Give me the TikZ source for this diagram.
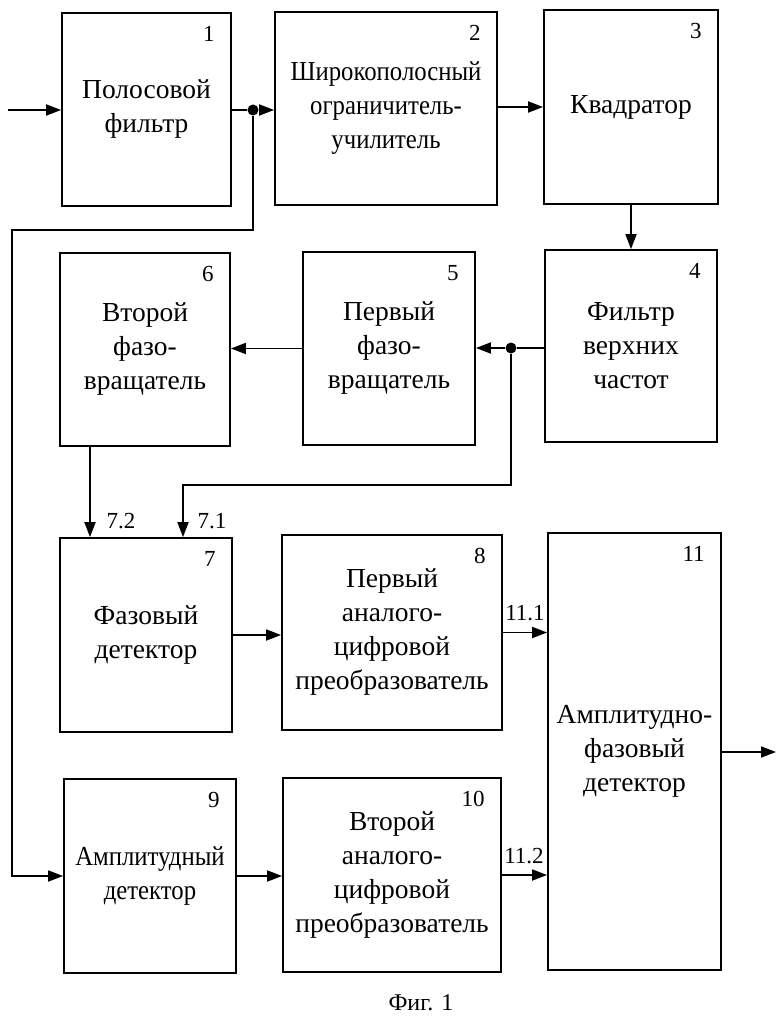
\documentclass[tikz,border=0pt]{standalone}
\usepackage{fontspec}
\setmainfont{Liberation Serif}
\usetikzlibrary{arrows.meta}
\begin{document}
\begin{tikzpicture}[x=1pt, y=-1pt,
        blok/.style = {draw, line width=1.8pt, inner sep=0pt, align=center, font=\fontsize{27.5}{34}\selectfont},
        uzkiy/.style = {font=\fontsize{27.5}{34}\selectfont\addfontfeature{FakeStretch=0.9}},
        nomer/.style = {anchor=north east, inner sep=0pt, font=\fontsize{23}{23}\selectfont},
        metka/.style = {inner sep=0pt, font=\fontsize{23}{23}\selectfont},
        svyaz/.style = {line width=1.8pt},
        strelka/.style = {line width=1.8pt, -{Triangle[length=15pt, width=11pt]}},
        tochka/.style = {circle, fill, inner sep=0pt, minimum size=11pt}]
    \useasboundingbox (0,0) rectangle (780,1024);
    % bloki
    \node[blok, minimum width=169pt, minimum height=193pt] (b1) at (146.5,109.5) {Полосовой\\фильтр};
    \node[blok, uzkiy, minimum width=222pt, minimum height=193pt] (b2) at (386,108.5) {Широкополосный\\ограничитель-\\училитель};
    \node[blok, minimum width=174pt, minimum height=194pt] (b3) at (631,107) {Квадратор};
    \node[blok, minimum width=172pt, minimum height=192pt] (b4) at (631,346) {Фильтр\\верхних\\частот};
    \node[blok, minimum width=172pt, minimum height=193pt] (b5) at (389,348.5) {Первый\\фазо-\\вращатель};
    \node[blok, minimum width=170pt, minimum height=193pt] (b6) at (145,349.5) {Второй\\фазо-\\вращатель};
    \node[blok, minimum width=172pt, minimum height=194pt] (b7) at (146,635) {Фазовый\\детектор};
    \node[blok, minimum width=220pt, minimum height=195pt] (b8) at (392,632.5) {Первый\\аналого-\\цифровой\\преобразователь};
    \node[blok, uzkiy, minimum width=172pt, minimum height=194pt] (b9) at (150,876) {Амплитудный\\детектор};
    \node[blok, minimum width=218pt, minimum height=194pt] (b10) at (392,875) {Второй\\аналого-\\цифровой\\преобразователь};
    \node[blok, minimum width=173pt, minimum height=437pt] (b11) at (634.5,751.5) {Амплитудно-\\фазовый\\детектор};
    % nomera
    \foreach \b/\n in {b1/1, b2/2, b3/3, b4/4, b5/5, b6/6, b7/7, b8/8, b9/9, b10/10, b11/11}
        \node[nomer] (n\n) at ([shift={(-17,14)}]\b.north east) {\n};
    % tochki i uzly
    \node[tochka] (d1) at (253,110) {};
    \node[tochka] (d2) at (511,348) {};
    \coordinate (in) at (8,110);
    \coordinate (c1) at (12,230);
    \coordinate (c2) at (183,485);
    \coordinate (out) at (776,752);
    % svyazi
    \draw[strelka] (in) -- (in -| b1.west);
    \draw[svyaz] (b1.east |- d1) -- (d1);
    \draw[strelka] (d1) -- (d1 -| b2.west);
    \draw[strelka] (d1) |- (c1) |- (b9.west);
    \draw[strelka] (b2.east |- b3.west) -- (b3.west);
    \draw[strelka] (b3.south) -- (b4.north);
    \draw[svyaz] (b4.west |- d2) -- (d2);
    \draw[strelka] (d2) -- (d2 -| b5.east);
    \draw[strelka] (b5.west) -- (b5.west -| b6.east);
    \draw[strelka] (d2) |- (c2) -- (c2 |- b7.north);
    \draw[strelka] ([xshift=-55pt]b6.south) -- ([xshift=-55pt]b6.south |- b7.north);
    \draw[strelka] (b7.east) -- (b7.east -| b8.west);
    \draw[strelka] (b8.east) -- (b8.east -| b11.west);
    \draw[strelka] (b9.east) -- (b9.east -| b10.west);
    \draw[strelka] (b10.east) -- (b10.east -| b11.west);
    \draw[strelka] (b11.east |- out) -- (out);
    % metki vhodov
    \node[metka] (l72) at (121,521) {7.2};
    \node[metka] (l71) at (212,521) {7.1};
    \node[metka] (l111) at (525,613) {11.1};
    \node[metka] (l112) at (524,856) {11.2};
    \node[font=\fontsize{24}{24}\selectfont] (fig) at (421,1003) {Фиг. 1};
\end{tikzpicture}
\end{document}
